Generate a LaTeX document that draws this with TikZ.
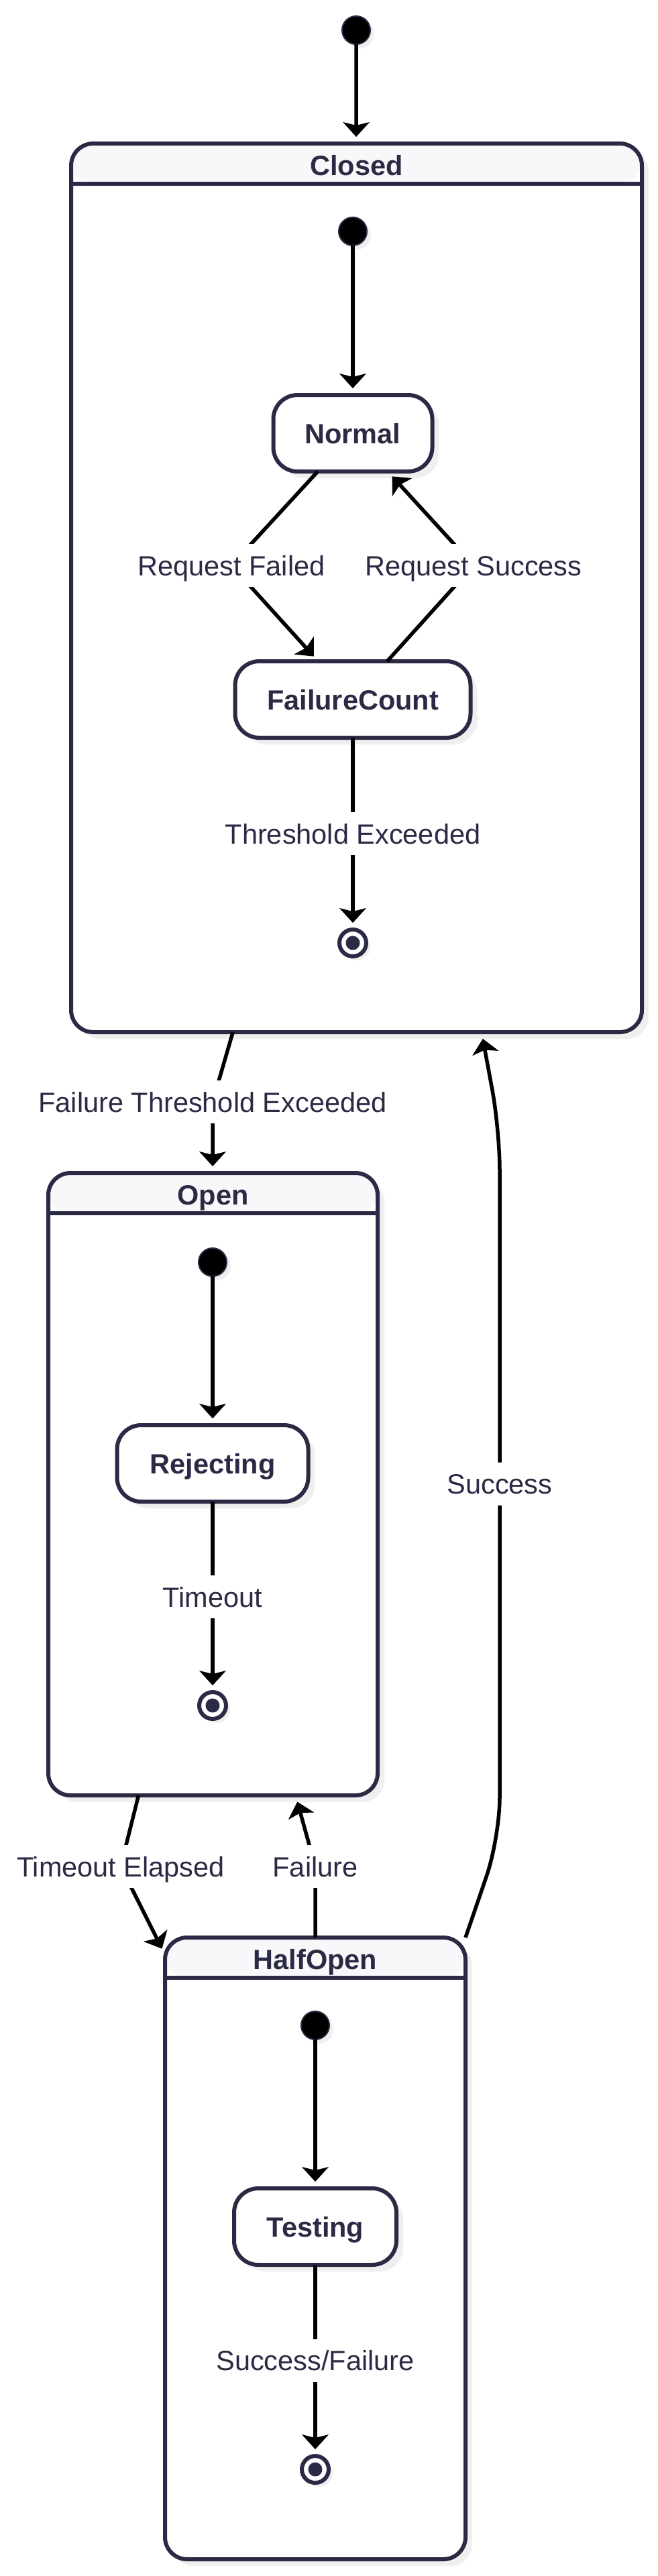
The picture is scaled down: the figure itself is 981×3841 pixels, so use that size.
\documentclass[tikz,border=0pt]{standalone}
\usepackage{fontspec}
\setmainfont{Liberation Sans}
\usepackage{tikz}
\usetikzlibrary{arrows.meta}
\usetikzlibrary{shadows}
\usepackage{xcolor}
\definecolor{ink}{HTML}{2A2A44}
\definecolor{headfill}{HTML}{F8F8FA}
\definecolor{shadowc}{HTML}{EFEFEF}
\newcommand{\edgefont}{\fontsize{41.5pt}{50pt}\selectfont}
\newcommand{\statefont}{\fontsize{41.5pt}{50pt}\selectfont\bfseries}
\begin{document}
\begin{tikzpicture}[x=1pt,y=-1pt]
\tikzset{>={Stealth[width=40pt,length=22pt,inset=5pt,line width=1pt]}}
\tikzstyle{startdot} =[circle, fill = black, draw = ink, line width=2pt, inner sep=0pt, outer sep=0pt, minimum size=42pt, drop shadow={shadow xshift=6pt,shadow yshift=-6pt,fill=shadowc,opacity=1}]
\tikzstyle{enddot} =[circle, fill = white, draw = ink, line width=6pt, inner sep=0pt, outer sep=0pt, minimum size=40pt, drop shadow={shadow xshift=6pt,shadow yshift=-6pt,fill=shadowc,opacity=1}, path picture={\fill[ink] (path picture bounding box.center) circle (10.5pt);}]
\tikzstyle{substate} =[rectangle, rounded corners=36pt, fill = white, draw = ink, line width=6pt, inner sep=0pt, outer sep=0pt, minimum height=114pt, text=ink, font=\statefont, text height=30pt, text depth=0pt, drop shadow={shadow xshift=10pt,shadow yshift=-10pt,fill=shadowc,opacity=1}]
\tikzstyle{composite} =[rectangle, rounded corners=33pt, fill = white, draw = ink, line width=6pt, inner sep=0pt, outer sep=0pt, drop shadow={shadow xshift=10pt,shadow yshift=-10pt,fill=shadowc,opacity=1}, path picture={\fill[headfill] (path picture bounding box.north west) rectangle ([yshift=-60pt]path picture bounding box.north east); \draw[ink,line width=6pt] ([yshift=-60pt]path picture bounding box.north west) -- ([yshift=-60pt]path picture bounding box.north east);}]
\tikzstyle{heading} =[anchor=base, inner sep=0pt, text=ink, font=\statefont]
\tikzstyle{translabel} =[fill = white, inner sep=2pt, minimum height=64pt, text=ink, font=\edgefont, text height=30pt, text depth=0pt]
\tikzstyle{trans} =[->, line width=5.5pt, shorten >=10pt]
\useasboundingbox[fill=white] (0,0) rectangle (981,3841);

\node[startdot](top) at (531,45){};
\node[composite, minimum width=851pt, minimum height=1325pt](closed) at (531.5,876.5){};
\node[heading](closedT) at ([yshift=-47pt]closed.north){Closed};
\node[startdot](cInit) at (526,345){};
\node[substate, minimum width=237pt](normal) at (526,646){Normal};
\node[substate, minimum width=351pt](failcount) at (526,1043){FailureCount};
\node[enddot](cEnd) at (526,1406){};
\coordinate (rfail) at (345,843);
\coordinate (rsucc) at (706,843);

\node[composite, minimum width=491pt, minimum height=928pt](open) at (317.5,2213){};
\node[heading](openT) at ([yshift=-47pt]open.north){Open};
\node[startdot](oInit) at (317,1882){};
\node[substate, minimum width=285pt](rejecting) at (317,2182){Rejecting};
\node[enddot](oEnd) at (317,2543){};
\coordinate (fthr) at (317,1643);

\node[composite, minimum width=448pt, minimum height=927pt](halfopen) at (470,3352.5){};
\node[heading](halfopenT) at ([yshift=-47pt]halfopen.north){HalfOpen};
\node[startdot](hInit) at (470,3020){};
\node[substate, minimum width=242pt](testing) at (470,3320){Testing};
\node[enddot](hEnd) at (470,3682){};
\coordinate (telap) at (180,2783);
\coordinate (hfail) at (470,2783);
\coordinate (sucLo) at (745,2740);
\coordinate (sucHi) at (745,1685);

\draw [trans] (top) -- (closed);
\draw [trans] (cInit) -- (normal);
\draw [trans] (normal) -- (rfail) node[translabel]{Request Failed} -- (failcount);
\draw [trans] (failcount) -- (rsucc) node[translabel]{Request Success} -- (normal);
\draw [trans] (failcount) -- node[translabel]{Threshold Exceeded} (cEnd);
\draw [trans] (closed) -- (fthr) node[translabel]{Failure Threshold Exceeded} -- (open);
\draw [trans] (oInit) -- (rejecting);
\draw [trans] (rejecting) -- node[translabel]{Timeout} (oEnd);
\draw [trans] (open) -- (telap) node[translabel]{Timeout Elapsed} -- (halfopen);
\draw [trans] (halfopen) -- (hfail) node[translabel]{Failure} -- (open);
\draw [trans] (hInit) -- (testing);
\draw [trans] (testing) -- node[translabel]{Success/Failure} (hEnd);
\draw [trans, rounded corners=60pt] (halfopen.north east) -- (sucLo) -- node[translabel]{Success} (sucHi) -- ([xshift=186.5pt]closed.south);
\end{tikzpicture}
\end{document}
